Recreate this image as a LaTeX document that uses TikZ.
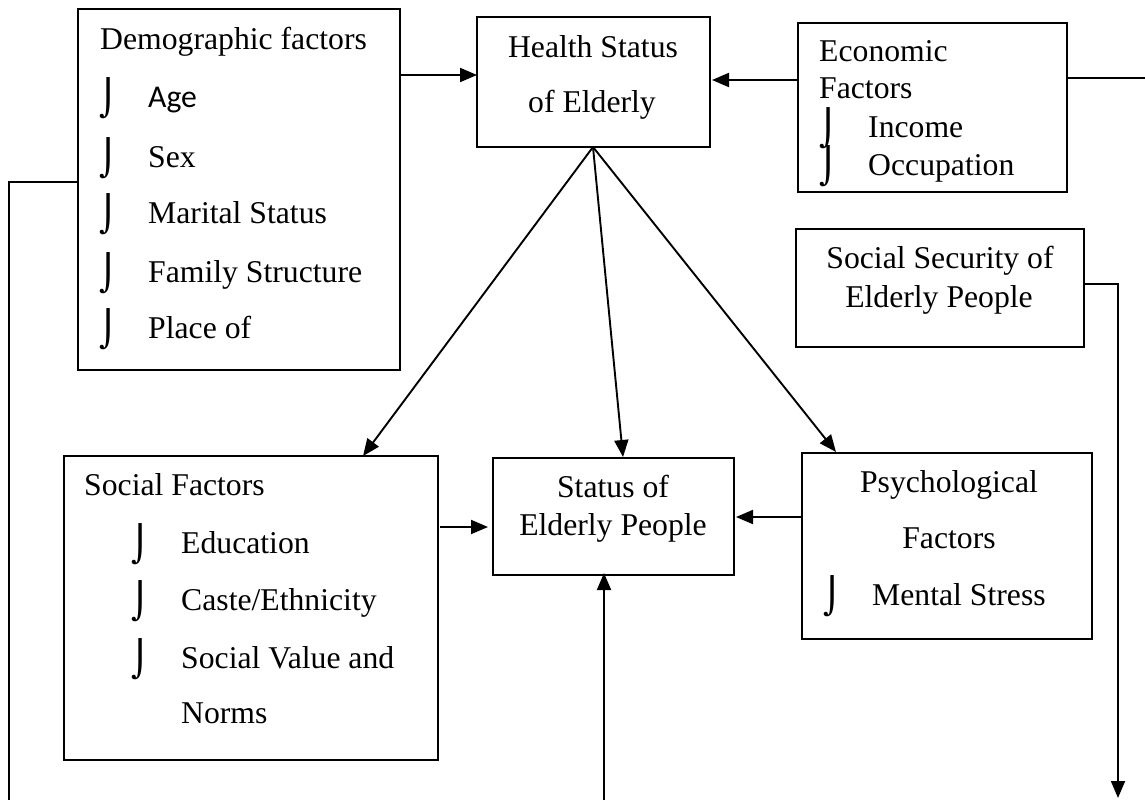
\documentclass[tikz,border=0pt]{standalone}
\usepackage{fontspec}
\setmainfont{Liberation Serif}
\newfontfamily\hookfont{DejaVu Sans}
\newfontfamily\agefont{Carlito}
\usetikzlibrary{arrows.meta}
\tikzset{
  box/.style={draw, line width=2pt, anchor=north west, inner sep=0pt, outer sep=0pt},
  txt/.style={anchor=base west, inner sep=0pt, font=\fontsize{31.7pt}{38pt}\selectfont},
  ctxt/.style={anchor=base, inner sep=0pt, font=\fontsize{31.7pt}{38pt}\selectfont},
  hook/.style={anchor=base west, inner sep=0pt, yshift=-3pt, font=\hookfont\fontsize{35pt}{42pt}\selectfont},
  link/.style={line width=1.9pt},
  arr/.style={link, -{Triangle[length=17pt,width=14pt]}}
}
\begin{document}
\begin{tikzpicture}[x=1pt, y=-1pt]
\useasboundingbox (0,0) rectangle (1145,800);

\node[box, minimum width=322pt, minimum height=361pt] (demo) at (78,9) {};
\node[box, minimum width=233pt, minimum height=130pt] (health) at (477,17) {};
\node[box, minimum width=269pt, minimum height=169pt] (econ) at (798,23) {};
\node[box, minimum width=288pt, minimum height=118pt] (secur) at (796,229) {};
\node[box, minimum width=374pt, minimum height=304pt] (social) at (64,456) {};
\node[box, minimum width=241pt, minimum height=117pt] (status) at (493,458) {};
\node[box, minimum width=290pt, minimum height=186pt] (psych) at (802,453) {};

\node[txt] (demotitle) at (100,50) {Demographic factors};
\node[txt, font=\agefont\fontsize{31.7pt}{38pt}\selectfont] (age) at (148,107) {Age};
\node[txt] (sex) at (148,167) {Sex};
\node[txt] (marital) at (148,223) {Marital Status};
\node[txt] (family) at (148,282) {Family Structure};
\node[txt] (place) at (148,338) {Place of};
\foreach \y [count=\i] in {107,167,223,282,338}
  \node[hook] (demohook\i) at (99,\y) {⌡};

\node[ctxt] (healthone) at (593,57) {Health Status};
\node[ctxt] (healthtwo) at (592,112) {of Elderly};

\node[txt] (econone) at (819,62) {Economic};
\node[txt] (econtwo) at (819,98) {Factors};
\node[txt] (income) at (868,137) {Income};
\node[txt] (occup) at (868,175) {Occupation};
\foreach \y [count=\i] in {137,175}
  \node[hook] (econhook\i) at (819,\y) {⌡};

\node[ctxt] (securone) at (940,268) {Social Security of};
\node[ctxt] (securtwo) at (939,307) {Elderly People};

\node[txt] (socialtitle) at (84,495) {Social Factors};
\node[txt] (educ) at (181,553) {Education};
\node[txt] (caste) at (181,610) {Caste/Ethnicity};
\node[txt] (value) at (181,668) {Social Value and};
\node[txt] (norms) at (181,723) {Norms};
\foreach \y [count=\i] in {553,610,668}
  \node[hook] (socialhook\i) at (131,\y) {⌡};

\node[ctxt] (statusone) at (613,497) {Status of};
\node[ctxt] (statustwo) at (613,535) {Elderly People};

\node[ctxt] (psychone) at (949,492) {Psychological};
\node[ctxt] (psychtwo) at (949,548) {Factors};
\node[txt] (stress) at (872,605) {Mental Stress};
\node[hook] (psychhook) at (823,605) {⌡};

\coordinate (apex) at (593,147);
\coordinate (leftbend) at (9,182);
\coordinate (leftend) at (9,800);
\coordinate (rightend) at (1145,78);
\coordinate (securbend) at (1118,284);
\coordinate (securend) at (1118,798);
\coordinate (upstart) at (604,800);

\draw[arr] (demo.east |- 0,75) -- (health.west |- 0,75);
\draw[arr] (econ.west |- 0,80) -- ([xshift=2pt]health.east |- 0,80);
\draw[link] (econ.east |- rightend) -- (rightend);
\draw[link] (demo.west |- leftbend) -- (leftbend) -- (leftend);
\draw[arr] (secur.east |- securbend) -- (securbend) -- (securend);
\draw[arr] (apex) -- (363,456);
\draw[arr] (apex) -- (623,457);
\draw[arr] (apex) -- (836,452);
\draw[arr] ([xshift=2pt]social.east |- 0,527) -- ([xshift=-5pt]status.west |- 0,527);
\draw[arr] (psych.west |- 0,517) -- ([xshift=2pt]status.east |- 0,517);
\draw[arr] (upstart) -- ([yshift=2pt]upstart |- status.south);

\end{tikzpicture}
\end{document}
